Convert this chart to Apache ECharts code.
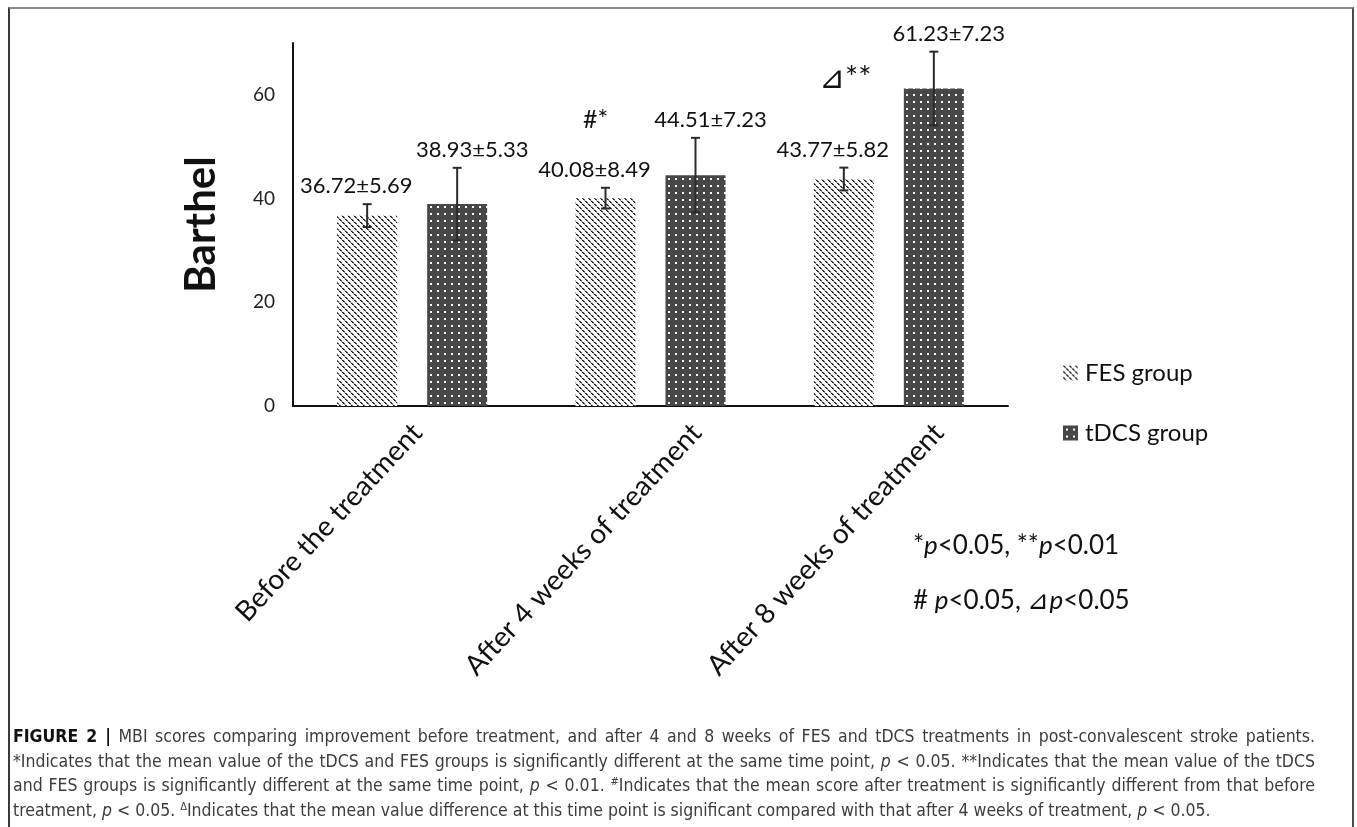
<!DOCTYPE html>
<html>
<head>
<meta charset="utf-8">
<script src="https://cdn.jsdelivr.net/npm/echarts@6/dist/echarts.min.js"></script>
<style>
  html, body { margin: 0; padding: 0; background: #fff; }
  #wrap { position: relative; width: 1357px; height: 827px; overflow: hidden; background: #fff; }
  #chart { position: absolute; left: 0; top: 0; width: 1357px; height: 827px; }
  #frame { position: absolute; left: 8px; top: 7px; width: 1346px; height: 900px;
           border-top: 2px solid #8a8a8a; border-left: 2px solid #3a3a3a; border-right: 2px solid #4a4a4a; box-sizing: border-box; pointer-events: none; }
  #caption { position: absolute; left: 13px; top: 724px; width: 1302px;
             font-family: "Liberation Sans Narrow", "DejaVu Sans Condensed", "Liberation Sans", sans-serif;
             font-size: 17.5px; line-height: 24.7px; color: #3c3c3c; }
  #caption .ln { display: block; white-space: nowrap; text-align: justify; text-align-last: justify; }
  #caption .ln.last { text-align-last: left; }
  #caption b { color: #111; }
  #caption sup { font-size: 11px; line-height: 0; vertical-align: 6px; }
</style>
</head>
<body>
<div id="wrap">
  <div id="chart"></div>
  <div id="frame"></div>
  <div id="caption">
    <span class="ln"><b>FIGURE 2 |</b> MBI scores comparing improvement before treatment, and after 4 and 8 weeks of FES and tDCS treatments in post-convalescent stroke patients.</span>
    <span class="ln">*Indicates that the mean value of the tDCS and FES groups is significantly different at the same time point, <i>p</i> &lt; 0.05. **Indicates that the mean value of the tDCS</span>
    <span class="ln">and FES groups is significantly different at the same time point, <i>p</i> &lt; 0.01. <sup>#</sup>Indicates that the mean score after treatment is significantly different from that before</span>
    <span class="ln last">treatment, <i>p</i> &lt; 0.05. <sup>&Delta;</sup>Indicates that the mean value difference at this time point is significant compared with that after 4 weeks of treatment, <i>p</i> &lt; 0.05.</span>
  </div>
</div>
<script>
// Time points on the category axis
const categories = ['Before the treatment', 'After 4 weeks of treatment', 'After 8 weeks of treatment'];
// Group means (Barthel / MBI score)
const fesMean = [36.72, 40.08, 43.77];
const tdcsMean = [38.93, 44.51, 61.23];
// Standard deviations printed with each mean
const fesSD = [5.69, 8.49, 5.82];
const tdcsSD = [5.33, 7.23, 7.23];
// Half-length of the drawn error whiskers
const fesWhisker = [2.2, 2.0, 2.2];
const tdcsWhisker = [7.0, 7.2, 7.1];
// Value-axis ticks
const yTicks = [0, 20, 40, 60];
const seriesNames = ['FES group', 'tDCS group'];

const FONT = 'Lato, "Open Sans", "Liberation Sans", sans-serif';
const BAR_W = 60, BAR_GAP = 30;
// Horizontal nudge of each rotated category label's end point
const LABEL_NUDGE = [5, 46, 50];

// Hatched fill: dotted diagonal lines (top-left to bottom-right) on white
function hatchPattern() {
  const c = document.createElement('canvas');
  c.width = 6; c.height = 6;
  const g = c.getContext('2d');
  g.fillStyle = '#ffffff'; g.fillRect(0, 0, 6, 6);
  for (let i = 0; i < 6; i++) {
    const gap = (i === 2 || i === 5);
    g.fillStyle = gap ? '#8c8c8c' : '#161616';
    g.fillRect(i, i, 1, 1);
    g.fillStyle = gap ? '#d0d0d0' : '#5a5a5a';
    g.fillRect((i + 1) % 6, i, 1, 1);
  }
  return c;
}
// Dark fill with white dot grid
function dotPattern() {
  const c = document.createElement('canvas');
  c.width = 7; c.height = 7;
  const g = c.getContext('2d');
  g.fillStyle = '#474747'; g.fillRect(0, 0, 7, 7);
  g.fillStyle = '#ffffff';
  g.fillRect(3, 3, 2, 2);
  return c;
}
const fesFill = { image: hatchPattern(), repeat: 'repeat' };
const tdcsFill = { image: dotPattern(), repeat: 'repeat' };

function errorSeries(name, means, sds, whiskers, side, labelShift) {
  return {
    type: 'custom',
    name: name + ' error',
    z: 5,
    data: means.map((m, i) => [i, m, whiskers[i], sds[i]]),
    renderItem: function (params, api) {
      const i = api.value(0), m = api.value(1), w = api.value(2), sd = api.value(3);
      const x = api.coord([i, m])[0] + side * (BAR_W + BAR_GAP) / 2;
      const yHi = api.coord([i, m + w])[1];
      const yLo = api.coord([i, m - w])[1];
      const cap = 4.5;
      const st = { stroke: '#2a2a2a', lineWidth: 2 };
      return {
        type: 'group',
        children: [
          { type: 'line', shape: { x1: x, y1: yHi, x2: x, y2: yLo }, style: st },
          { type: 'line', shape: { x1: x - cap, y1: yHi, x2: x + cap, y2: yHi }, style: st },
          { type: 'line', shape: { x1: x - cap, y1: yLo, x2: x + cap, y2: yLo }, style: st },
          { type: 'text', x: x + labelShift, y: yHi - 18,
            style: { text: m.toFixed(2) + '±' + sd.toFixed(2), fill: '#111', font: '22px ' + FONT,
                     align: 'center', verticalAlign: 'middle' } }
        ]
      };
    }
  };
}

// Rotated category labels drawn under the axis
const categoryLabels = {
  type: 'custom',
  name: 'category labels',
  silent: true,
  data: categories.map((c, i) => [i, 0]),
  renderItem: function (params, api) {
    const i = api.value(0);
    const p = api.coord([i, 0]);
    return {
      type: 'text',
      x: p[0] + LABEL_NUDGE[i], y: p[1] + 22,
      rotation: 47 * Math.PI / 180,
      style: { text: categories[i], font: '28px ' + FONT, fill: '#111', align: 'right', verticalAlign: 'middle' }
    };
  }
};

const chart = echarts.init(document.getElementById('chart'), null, { renderer: 'canvas' });
chart.setOption({
  animation: false,
  backgroundColor: 'transparent',
  grid: { left: 293, right: 349, top: 43, bottom: 421, containLabel: false },
  legend: {
    data: seriesNames,
    orient: 'vertical', left: 1058, top: 356, itemGap: 36,
    itemWidth: 15, itemHeight: 15, icon: 'rect',
    textStyle: { fontFamily: FONT, fontSize: 24, color: '#111', padding: [0, 0, 0, 2] }
  },
  xAxis: {
    type: 'category', data: categories,
    axisLine: { lineStyle: { color: '#111', width: 2 } },
    axisTick: { show: false },
    axisLabel: { show: false }
  },
  yAxis: {
    type: 'value', min: yTicks[0], max: 70, interval: yTicks[1] - yTicks[0],
    name: 'Barthel', nameLocation: 'middle', nameRotate: 90, nameGap: 92, nameMoveOverlap: false,
    nameTextStyle: { fontFamily: FONT, fontSize: 42, fontWeight: 'bold', color: '#111', verticalAlign: 'middle' },
    axisLine: { show: true, lineStyle: { color: '#111', width: 2 } },
    axisTick: { show: false },
    splitLine: { show: false },
    axisLabel: { showMaxLabel: false, fontFamily: FONT, fontSize: 19, color: '#222', margin: 18 }
  },
  series: [
    { type: 'bar', name: seriesNames[0], data: fesMean, barWidth: BAR_W, barGap: (BAR_GAP / BAR_W * 100) + '%',
      itemStyle: { color: fesFill } },
    { type: 'bar', name: seriesNames[1], data: tdcsMean, barWidth: BAR_W,
      itemStyle: { color: tdcsFill } },
    errorSeries(seriesNames[0], fesMean, fesSD, fesWhisker, -1, -11),
    errorSeries(seriesNames[1], tdcsMean, tdcsSD, tdcsWhisker, 1, 15),
    categoryLabels
  ],
  graphic: [
    { type: 'text', left: 583, top: 107, style: { text: '#*', font: '25px ' + FONT, fill: '#111' } },
    { type: 'text', left: 819, top: 62, style: { text: '⊿**', font: '31px ' + FONT, fill: '#111' } },
    { type: 'text', left: 913, top: 533,
      style: { text: '*{i|p}<0.05, **{i|p}<0.01', font: '26px ' + FONT, fill: '#111',
               rich: { i: { fontStyle: 'italic', fontFamily: FONT, fontSize: 26 } } } },
    { type: 'text', left: 913, top: 588,
      style: { text: '# {i|p}<0.05, ⊿{i|p}<0.05', font: '26px ' + FONT, fill: '#111',
               rich: { i: { fontStyle: 'italic', fontFamily: FONT, fontSize: 26 } } } }
  ]
});
</script>
</body>
</html>
